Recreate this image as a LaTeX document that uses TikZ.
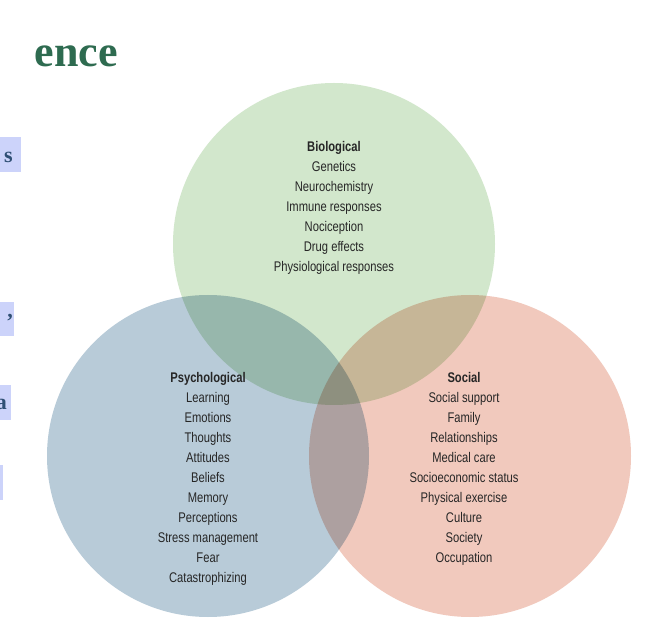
\documentclass[tikz,border=0pt]{standalone}
\usepackage{fontspec}
\setmainfont[FakeStretch=0.8]{Liberation Sans}
\newfontfamily\titlefont{Liberation Serif}
\definecolor{cgreen}{HTML}{D2E7CC}
\definecolor{cblue}{HTML}{B8CBD8}
\definecolor{cred}{HTML}{F1C9BD}
\definecolor{ttl}{HTML}{2E6B50}
\definecolor{lav}{HTML}{CCD3FA}
\definecolor{lavtxt}{HTML}{2F4F74}
\tikzset{
  circ/.style={circle, minimum size=322pt, inner sep=0pt},
  lbl/.style={align=center, font=\fontsize{14}{20}\selectfont, text=black!85},
}
\begin{document}
\begin{tikzpicture}[x=1pt,y=-1pt]
\useasboundingbox (0,0) rectangle (646,636);
\fill[white] (0,0) rectangle (646,636);
\begin{scope}[blend group=multiply]
\node[circ, fill=cgreen] (bio) at (334,244) {};
\node[circ, fill=cblue] (psy) at (208,456) {};
\node[circ, fill=cred] (soc) at (470,456) {};
\end{scope}
\node[lbl, anchor=north] (tb) at (334,138) {\textbf{Biological}\\Genetics\\Neurochemistry\\Immune responses\\Nociception\\Drug effects\\Physiological responses};
\node[lbl, anchor=north] (tp) at (208,369) {\textbf{Psychological}\\Learning\\Emotions\\Thoughts\\Attitudes\\Beliefs\\Memory\\Perceptions\\Stress management\\Fear\\Catastrophizing};
\node[lbl, anchor=north] (ts) at (464,369) {\textbf{Social}\\Social support\\Family\\Relationships\\Medical care\\Socioeconomic status\\Physical exercise\\Culture\\Society\\Occupation};
\node[anchor=east, inner sep=0pt, text=ttl, font=\titlefont\bfseries\fontsize{44}{44}\selectfont] (title) at (118,56) {ence};
\fill[lav] (0,137) rectangle (21,172);
\fill[lav] (0,302) rectangle (14,336);
\fill[lav] (0,385) rectangle (11,420);
\fill[lav] (0,465) rectangle (3,500);
\node[anchor=east, inner sep=0pt, text=lavtxt, font=\titlefont\bfseries\fontsize{22}{22}\selectfont] (s1) at (13,157) {s};
\node[anchor=east, inner sep=0pt, text=lavtxt, font=\titlefont\bfseries\fontsize{22}{22}\selectfont] (s2) at (13,318) {,};
\node[anchor=east, inner sep=0pt, text=lavtxt, font=\titlefont\bfseries\fontsize{22}{22}\selectfont] (s3) at (7,404) {a};
\end{tikzpicture}
\end{document}
